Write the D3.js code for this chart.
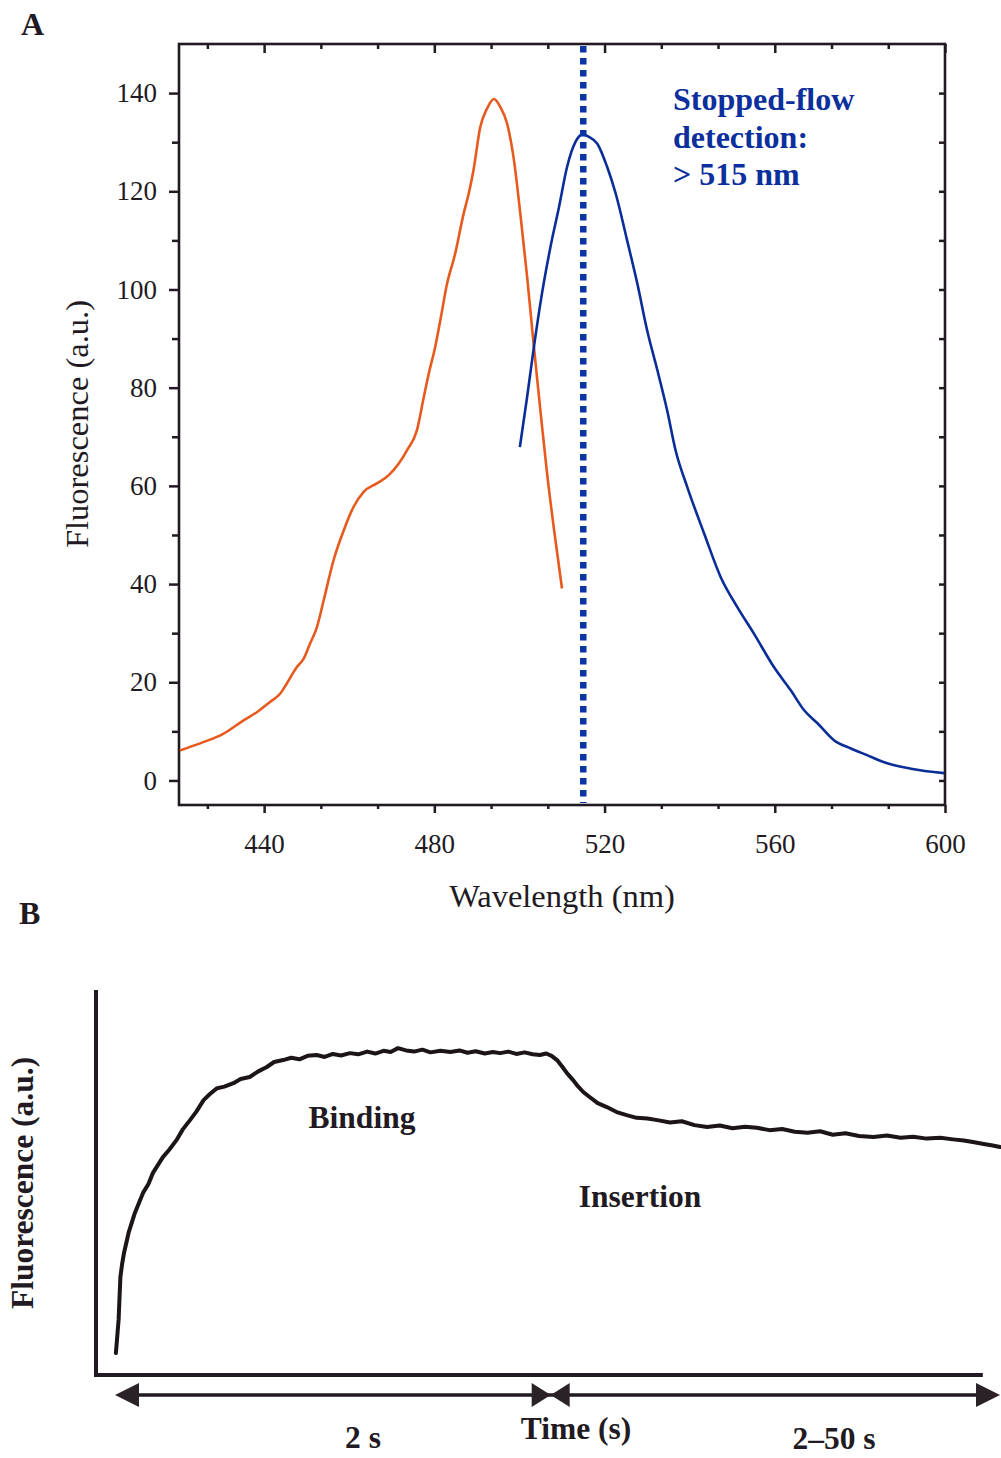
<!DOCTYPE html>
<html>
<head>
<meta charset="utf-8">
<script src="https://cdn.jsdelivr.net/npm/d3@7"></script>
<style>
  html, body { margin: 0; padding: 0; background: #ffffff; }
  svg { display: block; }
  text { font-family: "Liberation Serif", "Times New Roman", Times, serif; fill: #221a22; }
</style>
</head>
<body>
<svg id="fig" width="1001" height="1458"></svg>
<script>
// ---------- Panel A: excitation (orange) and emission (blue) spectra ----------
const excWavelength = [420.2, 425.7, 430.4, 435.1, 438.3, 441.4, 443.8, 445.3, 447.7, 449.3,
  450.8, 452.4, 454.0, 456.3, 458.7, 461.0, 463.4, 466.5, 469.3, 471.6, 473.6, 475.9, 477.5,
  478.7, 480.2, 481.4, 483.0, 484.9, 486.9, 488.1, 489.2, 490.8, 492.4, 494.0, 495.5, 497.1,
  498.7, 500.2, 501.8, 503.4, 505.0, 506.5, 508.2, 510.0];
const excIntensity = [6.1, 7.8, 9.5, 12.2, 13.9, 16.0, 17.7, 19.7, 23.1, 24.8,
  27.9, 31.2, 36.7, 44.8, 50.9, 55.7, 58.8, 60.5, 62.2, 64.5, 67.3, 71.3, 78.0,
  82.9, 88.3, 93.7, 101.2, 107.3, 115.5, 119.6, 124.3, 133.1, 136.9, 138.8, 137.2, 133.8,
  126.4, 115.5, 102.6, 88.3, 74.7, 62.5, 50.6, 39.1];

const emWavelength = [500.1, 501.8, 503.4, 505.3, 507.3, 509.3, 511.2, 513.2, 514.8, 516.3,
  518.3, 520.6, 522.6, 525.3, 527.7, 530.0, 532.4, 534.7, 536.7, 539.5, 543.4, 547.3, 551.2,
  555.1, 559.8, 563.8, 566.9, 570.1, 573.9, 577.9, 581.8, 585.7, 592.0, 599.8];
const emIntensity = [67.9, 78.1, 88.3, 99.2, 108.7, 116.8, 125.0, 130.1, 131.6, 131.1,
  129.7, 125.0, 119.6, 110.0, 101.2, 91.7, 83.6, 75.4, 67.2, 59.6, 50.3, 41.4, 35.3,
  29.9, 23.1, 18.3, 14.3, 11.6, 8.2, 6.5, 5.1, 3.7, 2.4, 1.5];

const detectionCutoff = 515;   // nm, stopped-flow emission filter
const detectionLines = ["Stopped-flow", "detection:", "> 515 nm"];

const xMajorTicks = [440, 480, 520, 560, 600];
const yMajorTicks = [0, 20, 40, 60, 80, 100, 120, 140];

// ---------- Panel B: stopped-flow fluorescence trace ----------
// position along the (broken) time axis, in display units 0-100
const tracePos = [2.2, 2.35, 2.5, 2.6, 2.7, 2.9, 3.1, 3.6, 4.3, 5.2, 5.8, 6.3, 7.4, 8.1, 8.9,
  9.6, 10.4, 11.1, 11.9, 12.6, 13.4, 14.2, 15.2, 16.0, 17.0, 17.9, 18.9, 19.7, 20.7, 21.6,
  22.5, 23.4, 24.4, 25.3, 26.2, 27.1, 28.1, 29.0, 30.0, 30.9, 31.8, 32.6, 33.4, 34.3, 35.2,
  36.1, 37.0, 38.1, 39.2, 40.2, 41.1, 42.0, 43.0, 43.9, 44.7, 45.6, 46.5, 47.4, 48.3, 49.1,
  49.8, 50.4, 51.0, 51.6, 52.1, 52.7, 53.2, 53.9, 54.6, 55.5, 56.5, 57.6, 58.7, 59.8, 61.0,
  62.1, 63.5, 64.8, 66.2, 67.6, 69.0, 70.4, 71.8, 73.1, 74.5, 75.9, 77.3, 78.7, 80.1, 81.5,
  82.9, 84.4, 86.0, 87.5, 89.0, 90.4, 91.9, 93.4, 94.8, 96.0, 97.0, 98.2, 99.2, 100];
const traceSignal = [5.7, 10, 14.3, 20, 25.5, 29, 31.7, 36.9, 42.1, 47.3, 49.6, 52.5, 56.6, 58.5, 61.0,
  63.8, 66.2, 68.4, 71.4, 73.0, 74.5, 74.9, 75.8, 76.9, 77.4, 78.8, 80.0, 81.3, 81.8, 82.4,
  82.0, 82.9, 83.1, 82.6, 83.4, 83.0, 83.6, 83.3, 84.0, 83.5, 84.2, 83.9, 84.9, 84.3, 84.0,
  84.5, 83.8, 84.2, 83.9, 84.3, 83.7, 84.1, 83.5, 83.9, 83.6, 84.0, 83.4, 83.8, 83.3, 83.1,
  83.5, 82.9, 81.8, 80.0, 78.4, 76.8, 75.3, 73.5, 72.2, 70.6, 69.6, 68.3, 67.5, 66.8, 66.6,
  66.2, 65.6, 65.9, 64.9, 64.4, 64.8, 64.1, 64.5, 64.2, 63.6, 63.9, 63.2, 62.9, 63.3, 62.4,
  62.8, 62.1, 61.8, 62.2, 61.6, 61.9, 61.4, 61.6, 61.2, 60.9, 60.5, 60.0, 59.6, 59.2];

const timeSplit = 50.3;          // where the 2 s segment meets the 2–50 s segment
const timeLabels = ["2 s", "Time (s)", "2–50 s"];
const phaseLabels = ["Binding", "Insertion"];

// ---------------------------------------------------------------------------
const svg = d3.select("#fig");
const ink = "#221a22";
const orange = "#e65a1e";
const blue = "#0b2d98";

// ===== Panel A =====
const A = { left: 179, right: 945, top: 44, bottom: 805 };
const x = d3.scaleLinear().domain([420, 600]).range([A.left, A.right]);
const y = d3.scaleLinear().domain([-5, 150]).range([A.bottom, A.top]);

const gA = svg.append("g");

// minor ticks split each 40 nm interval into three
const xMinorTicks = d3.range(420 + 20 / 3, 600.01, 40 / 3).filter(v => !xMajorTicks.some(m => Math.abs(m - v) < 0.01));
const yMinorTicks = d3.range(10, 150, 20);

function styleAxis(g, width) {
  g.select(".domain").remove();
  g.selectAll(".tick line").attr("stroke", ink).attr("stroke-width", width);
  g.selectAll(".tick text").attr("fill", ink).style("font-family", '"Liberation Serif", serif');
}

// bottom
gA.append("g").attr("transform", `translate(0,${A.bottom})`)
  .call(d3.axisBottom(x).tickValues(xMajorTicks).tickSize(8).tickPadding(21).tickFormat(d3.format("d")))
  .call(g => { styleAxis(g, 2.5); g.selectAll(".tick text").attr("font-size", 27); });
gA.append("g").attr("transform", `translate(0,${A.bottom})`)
  .call(d3.axisBottom(x).tickValues(xMinorTicks).tickSize(4).tickFormat(""))
  .call(g => styleAxis(g, 2.5));
// top (inward)
gA.append("g").attr("transform", `translate(0,${A.top})`)
  .call(d3.axisTop(x).tickValues(xMajorTicks).tickSize(-9).tickFormat(""))
  .call(g => styleAxis(g, 2.5));
gA.append("g").attr("transform", `translate(0,${A.top})`)
  .call(d3.axisTop(x).tickValues(xMinorTicks).tickSize(-5).tickFormat(""))
  .call(g => styleAxis(g, 2.5));
// left
gA.append("g").attr("transform", `translate(${A.left},0)`)
  .call(d3.axisLeft(y).tickValues(yMajorTicks).tickSize(10).tickPadding(12).tickFormat(d3.format("d")))
  .call(g => { styleAxis(g, 2.5); g.selectAll(".tick text").attr("font-size", 27); });
gA.append("g").attr("transform", `translate(${A.left},0)`)
  .call(d3.axisLeft(y).tickValues(yMinorTicks).tickSize(7).tickFormat(""))
  .call(g => styleAxis(g, 2.5));
// right (inward)
gA.append("g").attr("transform", `translate(${A.right},0)`)
  .call(d3.axisRight(y).tickValues(d3.range(0, 150, 10)).tickSize(-6).tickFormat(""))
  .call(g => styleAxis(g, 2.5));

// frame
gA.append("rect")
  .attr("x", A.left).attr("y", A.top)
  .attr("width", A.right - A.left).attr("height", A.bottom - A.top)
  .attr("fill", "none").attr("stroke", ink).attr("stroke-width", 2.6);

// spectra
const lineA = d3.line().x(d => x(d[0])).y(d => y(d[1])).curve(d3.curveMonotoneX);
gA.append("path")
  .datum(d3.zip(excWavelength, excIntensity))
  .attr("d", lineA).attr("fill", "none").attr("stroke", orange).attr("stroke-width", 2.6)
  .attr("stroke-linejoin", "round");
gA.append("path")
  .datum(d3.zip(emWavelength, emIntensity))
  .attr("d", lineA).attr("fill", "none").attr("stroke", blue).attr("stroke-width", 2.6)
  .attr("stroke-linejoin", "round");

// detection cutoff (dotted)
gA.append("line")
  .attr("x1", x(detectionCutoff)).attr("x2", x(detectionCutoff))
  .attr("y1", A.top + 2).attr("y2", A.bottom - 2)
  .attr("stroke", "#0a35a3").attr("stroke-width", 6.5)
  .attr("stroke-dasharray", "6.5,5.5");

// annotation
const note = gA.append("text").attr("x", 673).attr("y", 110)
  .attr("font-size", 32).attr("font-weight", "bold").attr("fill", "#0b2f9c");
detectionLines.forEach((t, i) => {
  note.append("tspan").attr("x", 673).attr("dy", i === 0 ? 0 : 37.5).text(t).attr("fill", "#0b2f9c");
});

// titles
gA.append("text").attr("x", 562).attr("y", 907).attr("text-anchor", "middle")
  .attr("font-size", 32.5).text("Wavelength (nm)");
gA.append("text").attr("transform", "translate(88,424) rotate(-90)").attr("text-anchor", "middle")
  .attr("font-size", 32.5).text("Fluorescence (a.u.)");
gA.append("text").attr("x", 21).attr("y", 35).attr("font-size", 32).attr("font-weight", "bold").text("A");

// ===== Panel B =====
const B = { left: 96, right: 1000, top: 990, bottom: 1375 };
const xb = d3.scaleLinear().domain([0, 100]).range([B.left, B.right]);
const yb = d3.scaleLinear().domain([0, 100]).range([B.bottom, B.top]);
const gB = svg.append("g");

gB.append("text").attr("x", 19).attr("y", 924).attr("font-size", 32).attr("font-weight", "bold").text("B");

// axes
gB.append("line").attr("x1", B.left).attr("x2", B.left).attr("y1", B.top).attr("y2", B.bottom + 2)
  .attr("stroke", ink).attr("stroke-width", 4);
gB.append("line").attr("x1", B.left - 2).attr("x2", xb(98.1)).attr("y1", B.bottom).attr("y2", B.bottom)
  .attr("stroke", ink).attr("stroke-width", 4);

// trace
const lineB = d3.line().x(d => xb(d[0])).y(d => yb(d[1]));
gB.append("path")
  .datum(d3.zip(tracePos, traceSignal))
  .attr("d", lineB).attr("fill", "none").attr("stroke", "#1b1418").attr("stroke-width", 4)
  .attr("stroke-linejoin", "round").attr("stroke-linecap", "round");

// time arrows (two double-headed segments meeting at the split)
const arrowY = 1395;
function head(tipX, dir, len, half) {
  return `M${tipX},${arrowY} L${tipX - dir * len},${arrowY - half} L${tipX - dir * len},${arrowY + half} Z`;
}
const x0 = xb(2.1), xm = xb(timeSplit), x1 = xb(100);
gB.append("line").attr("x1", x0 + 10).attr("x2", x1 - 10).attr("y1", arrowY).attr("y2", arrowY)
  .attr("stroke", ink).attr("stroke-width", 3.5);
[[x0, -1, 24], [xm, 1, 19], [xm, -1, 19], [x1, 1, 24]].forEach(([tx, dir, len]) => {
  gB.append("path").attr("d", head(tx, dir, len, 12)).attr("fill", "#2a2226");
});

// labels
const bold = (sel) => sel.attr("font-weight", "bold").attr("font-size", 31.5);
gB.append("text").attr("x", 363).attr("y", 1448).attr("text-anchor", "middle").call(bold).text(timeLabels[0]);
gB.append("text").attr("x", 576).attr("y", 1439).attr("text-anchor", "middle").call(bold).text(timeLabels[1]);
gB.append("text").attr("x", 834).attr("y", 1449).attr("text-anchor", "middle").call(bold).text(timeLabels[2]);
gB.append("text").attr("x", 362).attr("y", 1128).attr("text-anchor", "middle").call(bold).text(phaseLabels[0]);
gB.append("text").attr("x", 640).attr("y", 1207).attr("text-anchor", "middle").call(bold).text(phaseLabels[1]);
gB.append("text").attr("transform", "translate(33,1183) rotate(-90)").attr("text-anchor", "middle")
  .call(bold).text("Fluorescence (a.u.)");
</script>
</body>
</html>
